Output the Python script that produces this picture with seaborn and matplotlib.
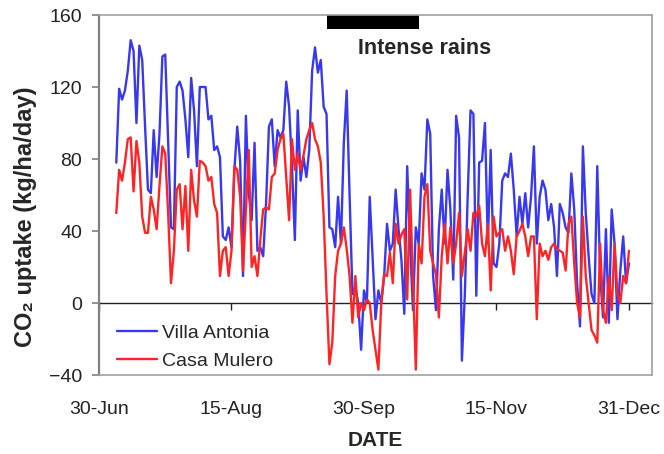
import numpy as np
import pandas as pd
import matplotlib
matplotlib.use('Agg')
import matplotlib.pyplot as plt
import matplotlib.dates as mdates
import seaborn as sns

# daily CO2 uptake (kg/ha/day), starting 6-Jul
start_date = '2004-07-06'
villa_antonia = [
    78, 119, 113, 118, 129, 146, 140, 100, 143, 135, 98, 63, 61, 96, 70, 94, 137, 138, 90, 42,
    41, 120, 123, 118, 102, 81, 125, 107, 76, 120, 120, 120, 102, 104, 85, 87, 81, 37, 35, 42,
    31, 74,
    98, 79, 15, 104, 61, 46, 89, 29, 31, 26, 55, 98, 102, 76, 96, 92, 96, 123, 109, 76,
    35, 107, 68, 81, 70, 85, 129, 142, 128, 135, 109, 105, 42, 41, 31, 59, 33, 89, 118, 60,
    5, 9, 0, -26, 7, 0, 59, 25,
    -9, 7, 0, 15, 44, 29, 33, 63, 41, 24, -6, 76, 33, -4, 42, 33, 72, 63, 102, 94,
    15, -4, 41, 63, 33, 74, 52, 13, 104, 92, -32, 4, 59, 107, 105, 4, 78, 79, 100, 33,
    85, 22,
    20, 33, 68, 72, 70, 83, 63, 37, 59, 44, 61, 42, 59, 87, 33, 59, 68, 63, 46, 55,
    42, 15, 55, 50, 42, 39, 72, 52, 11, -13, 87, 50, 26, 5, 0, 76, 16, -8, 41, -11,
    52, 33, -9, 18, 37, 11, 22,
]
casa_mulero = [
    50, 74, 68, 78, 91, 92, 62, 90, 78, 48, 39, 39, 59, 52, 41, 65, 87, 83, 50, 11,
    29, 63, 66, 41, 65, 29, 74, 57, 48, 79, 78, 76, 68, 70, 55, 50, 15, 29, 31, 15,
    29, 76,
    74, 59, 18, 52, 85, 20, 26, 15, 35, 52, 53, 52, 70, 72, 85, 91, 94, 70, 46, 91,
    74, 83, 74, 82, 91, 96, 100, 91, 87, 78, 48, 5, -34, -22, 15, 29, 33, 42, 30, 15,
    -11, 15, -8, 0, -4, 2, 0,
    -15, -26, -37, 0, 16, 15, 28, 11, 44, 33, 38, 41, 2, 63, 13, -37, 33, 22, 59, 66,
    29, 22, 16, -8, 26, 44, 22, 42, 22, 33, 50, 15, 28, 41, 29, 50, 48, 54, 33, 26,
    44, 7, 48,
    37, 39, 41, 29, 37, 29, 16, 37, 40, 44, 37, 26, 37, 37, -9, 33, 26, 29, 24, 31,
    33, 30, 29, 28, 18, 44, 48, 22, 0, -8, 48, 15, 0, -15, -18, -22, 33, -4, -11, 15,
    -4, 33, 5, 0, 15, 11, 29,
]
sites = ['Villa Antonia', 'Casa Mulero']
tick_dates = ['2004-06-30', '2004-08-15', '2004-09-30', '2004-11-15', '2004-12-31']
tick_labels = ['30-Jun', '15-Aug', '30-Sep', '15-Nov', '31-Dec']
rain_start, rain_end = '2004-09-17', '2004-10-19'

n = len(villa_antonia)
dates = pd.date_range(start_date, periods=n, freq='D')
df = pd.DataFrame({
    'date': list(dates) + list(dates),
    'uptake': villa_antonia + casa_mulero,
    'site': [sites[0]] * n + [sites[1]] * n,
})

sns.set_style('white')
plt.rcParams['font.family'] = ['Liberation Sans', 'DejaVu Sans']

fig = plt.figure(figsize=(6.64, 4.54), dpi=100)
ax = fig.add_axes([99 / 664, 1 - 375 / 454, (652 - 99) / 664, (375 - 15) / 454])

sns.lineplot(data=df, x='date', y='uptake', hue='site',
             palette={'Villa Antonia': '#3838f0', 'Casa Mulero': '#ff2424'},
             linewidth=1.7, ax=ax)

ax.set_xlim(pd.Timestamp('2004-06-30'), pd.Timestamp('2005-01-08'))
ax.set_ylim(-40, 160)
ax.set_yticks([-40, 0, 40, 80, 120, 160])

# rain period bar + label
ax.axvspan(pd.Timestamp(rain_start), pd.Timestamp(rain_end), ymin=(152 + 40) / 200, ymax=1,
           color='black', lw=0)
ax.text(pd.Timestamp('2004-09-28'), 141.5, 'Intense rains', fontsize=15.5,
        fontweight='bold', ha='left', va='center')

# frame
for s in ax.spines.values():
    s.set_color('#a0a0a0')
    s.set_linewidth(1.2)
ax.spines['left'].set_color('#808080')
ax.spines['left'].set_linewidth(1.6)

ax.set_xticks(pd.to_datetime(tick_dates))
ax.set_xticklabels(tick_labels)
ax.tick_params(axis='x', length=0, pad=19, labelsize=14, labelcolor='#222222')
ax.tick_params(axis='y', direction='out', length=5, width=1.2, color='#808080',
               pad=7, labelsize=14, labelcolor='#222222', left=True)

# zero line with tick marks
zero = ax.secondary_xaxis(0.2)
zero.set_xticks(mdates.date2num(pd.to_datetime(tick_dates)))
zero.tick_params(direction='out', length=5, width=1.0, color='#222222', labelbottom=False)
zero.spines['bottom'].set_color('#222222')
zero.spines['bottom'].set_linewidth(1.0)

ax.set_xlabel('DATE', fontsize=15, fontweight='bold', labelpad=9)
ax.set_ylabel('CO\u2082 uptake (kg/ha/day)', fontsize=17, fontweight='bold')
ax.yaxis.set_label_coords(-0.112, 0.44)

leg = ax.legend(title=None, loc='lower left', bbox_to_anchor=(0.0, -0.035), frameon=False,
                fontsize=14, handlelength=2.1, handletextpad=0.25, labelspacing=0.55)

fig.savefig('out.png', dpi=100)
